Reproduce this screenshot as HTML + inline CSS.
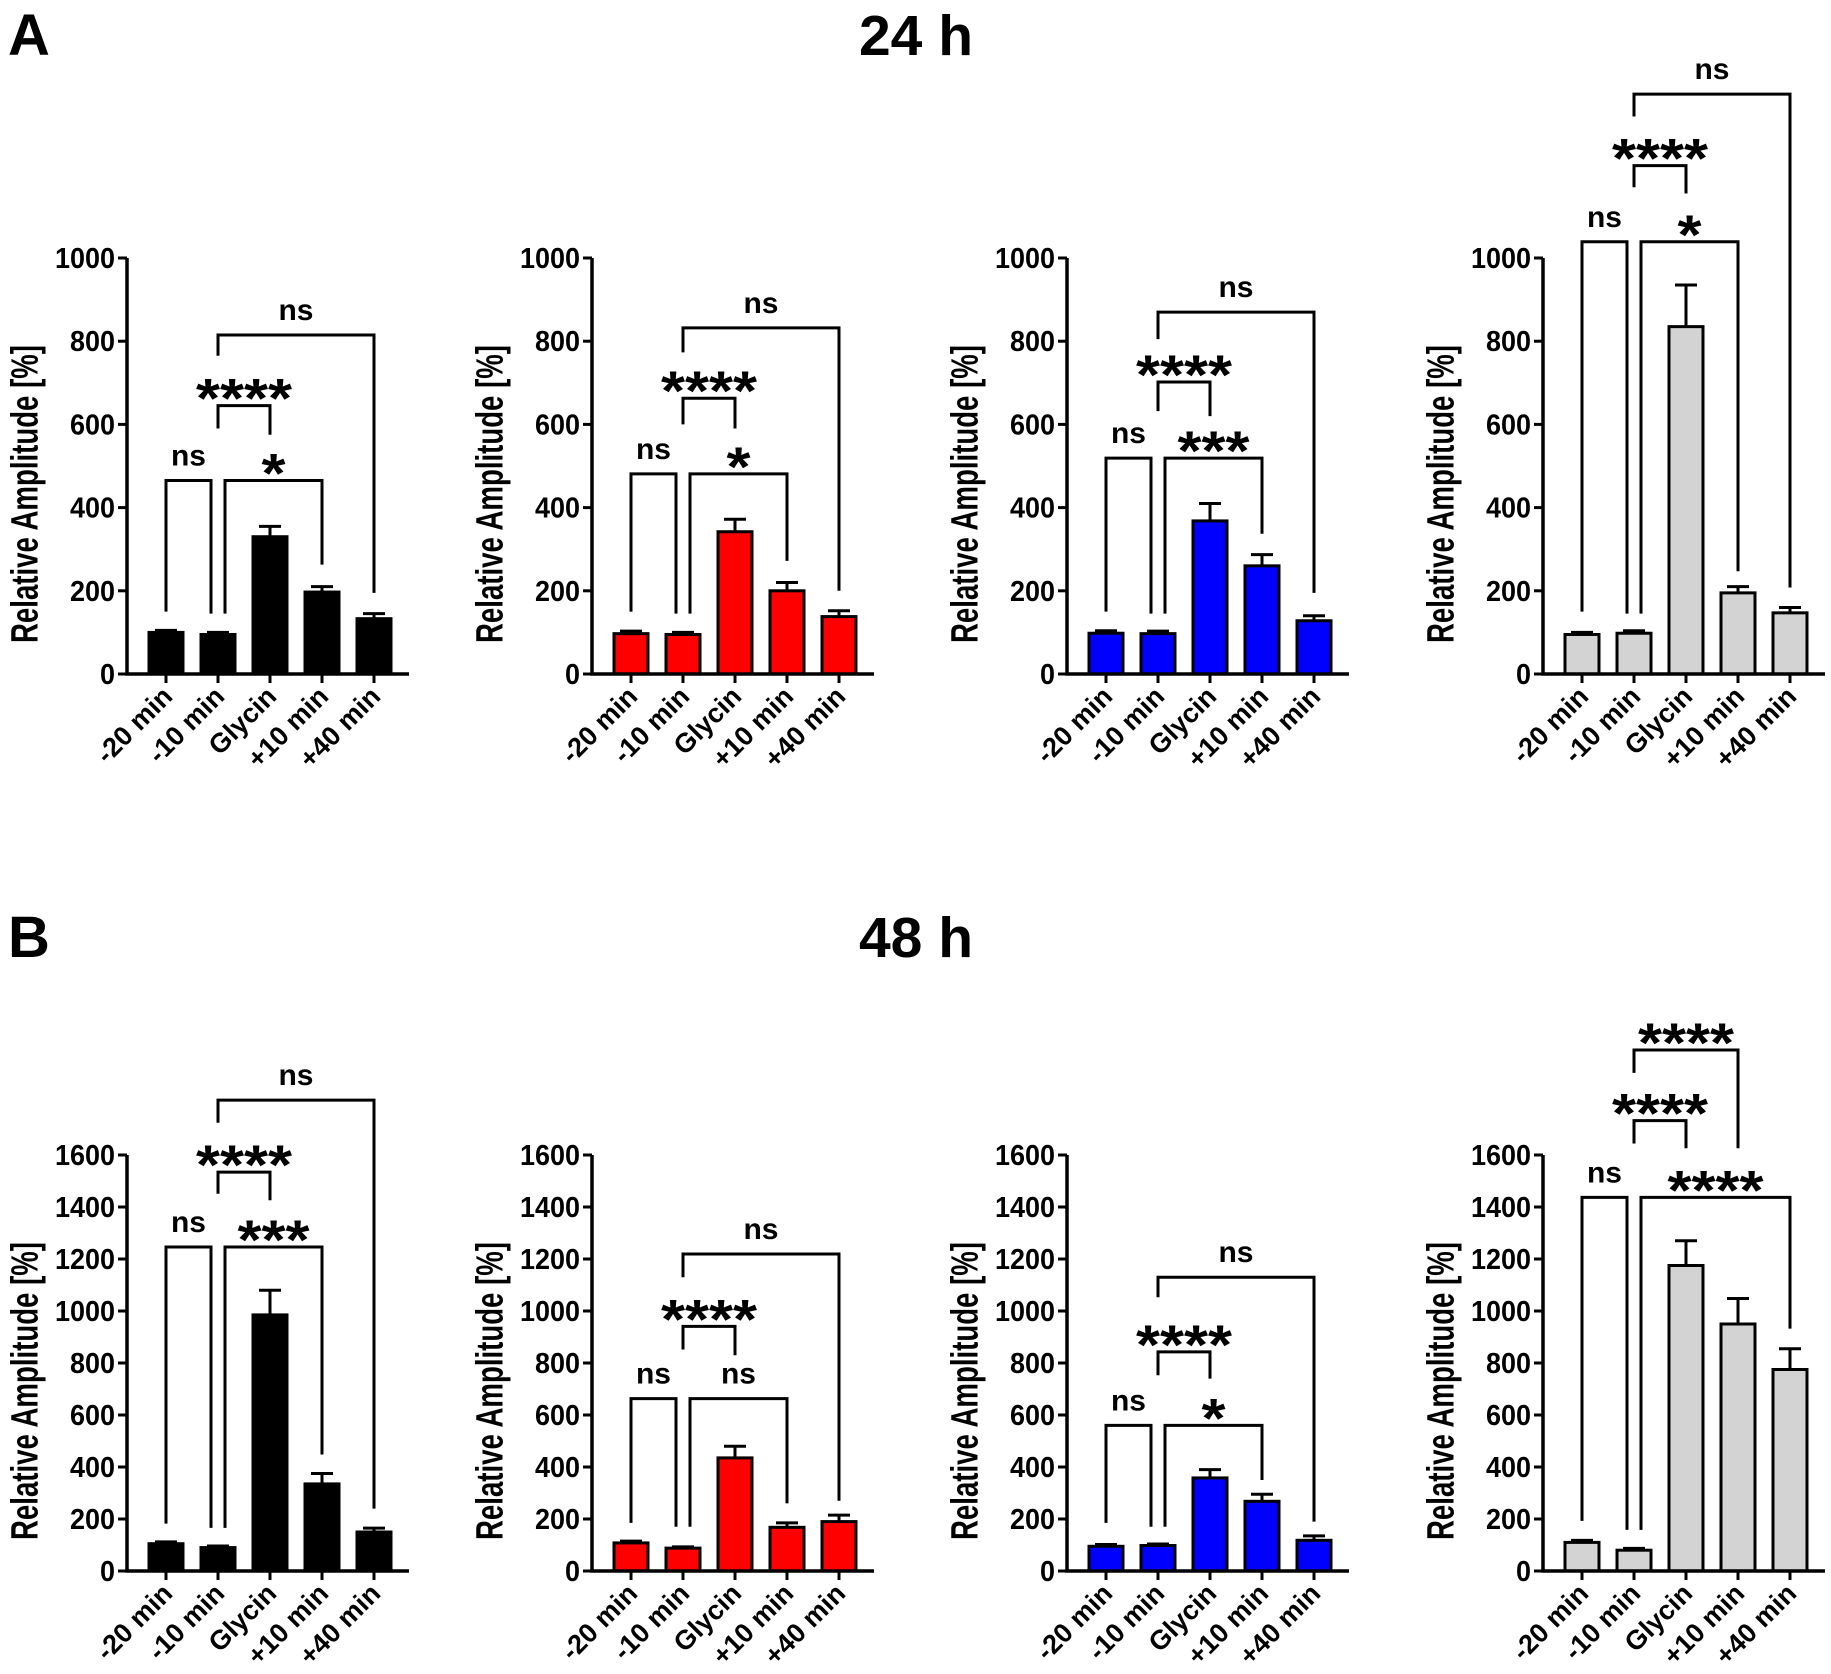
<!DOCTYPE html>
<html><head><meta charset="utf-8"><style>
html,body{margin:0;padding:0;background:#fff;}
svg{display:block;font-family:"Liberation Sans",Arial,sans-serif;font-weight:bold;}
</style></head><body>
<svg id="fig" width="1831" height="1674" viewBox="0 0 1831 1674" xmlns="http://www.w3.org/2000/svg">
<text x="8" y="55" font-size="58">A</text>
<text x="916" y="55" font-size="57" text-anchor="middle">24 h</text>
<text x="8" y="957" font-size="58">B</text>
<text x="916" y="957" font-size="57" text-anchor="middle">48 h</text>
</svg>
<script>
const categories = ['-20 min','-10 min','Glycin','+10 min','+40 min'];
const colors = ['#000000','#ff0000','#0000ff','#d3d3d3'];
const ticksA = [0,200,400,600,800,1000];
const ticksB = [0,200,400,600,800,1000,1200,1400,1600];
const means24 = [[100,95,330,197,133],[97,95,342,200,138],[98,97,368,260,128],[95,98,835,195,147]];
const errTop24 = [[105,100,355,210,145],[103,100,372,220,152],[104,103,410,287,140],[100,104,935,210,160]];
const means48 = [[105,90,985,335,150],[108,88,435,168,190],[95,98,358,268,118],[110,80,1175,950,775]];
const errTop48 = [[112,96,1080,375,165],[115,93,480,185,215],[102,104,390,295,135],[118,87,1270,1048,855]];
// brackets: [barA, dxA, barB, dxB, topValue, leftLegEnd, rightLegEnd, label]
const brackets24 = [
 [[0,0,1,-7,465,150,145,'ns'],[1,7,3,0,465,145,263,'*'],[1,0,2,0,645,590,575,'****'],[1,0,4,0,815,765,195,'ns']],
 [[0,0,1,-7,481,150,145,'ns'],[1,7,3,0,481,145,272,'*'],[1,0,2,0,663,600,590,'****'],[1,0,4,0,832,773,200,'ns']],
 [[0,0,1,-7,519,150,145,'ns'],[1,7,3,0,519,145,337,'***'],[1,0,2,0,702,632,620,'****'],[1,0,4,0,870,805,195,'ns']],
 [[0,0,1,-7,1039,150,145,'ns'],[1,7,3,0,1039,145,247,'*'],[1,0,2,0,1222,1170,1155,'****'],[1,0,4,0,1394,1340,208,'ns']]
];
const brackets48 = [
 [[0,0,1,-7,1246,182,166,'ns'],[1,7,3,0,1246,166,448,'***'],[1,0,2,0,1534,1451,1426,'****'],[1,0,4,0,1811,1724,240,'ns']],
 [[0,0,1,-7,663,185,170,'ns'],[1,7,3,0,663,170,260,'ns'],[1,0,2,0,941,852,830,'****'],[1,0,4,0,1219,1130,270,'ns']],
 [[0,0,1,-7,560,185,170,'ns'],[1,7,3,0,560,170,350,'*'],[1,0,2,0,843,753,740,'****'],[1,0,4,0,1130,1053,190,'ns']],
 [[0,0,1,-7,1437,193,158,'ns'],[1,7,4,0,1437,158,932,'****'],[1,0,2,0,1732,1644,1626,'****'],[1,0,3,0,2004,1916,1626,'****']]
];

const NS='http://www.w3.org/2000/svg';
const svg=document.getElementById('fig');
function mk(tag,attrs,parent){const e=document.createElementNS(NS,tag);for(const k in attrs)e.setAttribute(k,attrs[k]);(parent||svg).appendChild(e);return e;}
const firstBars=[166,631,1106,1582];
const spacing=52, barW=34;

function panel(row,p,means,errs,brs,ticks,maxV,y0,yTop){
  const g=mk('g',{});
  
  
  const axisX=firstBars[p]-39;
  const xC=i=>firstBars[p]+i*spacing;
  const yS=v=>y0-(v/maxV)*(y0-yTop);
  const axisEnd=xC(4)+35;
  means.forEach((m,i)=>{
    const cx=xC(i);
    const eb=mk('path',{d:`M${cx},${yS(m)} V${yS(errs[i])} M${cx-11},${yS(errs[i])} H${cx+11}`,stroke:'#000','stroke-width':3,fill:'none'},g);
    
    
    const r=mk('rect',{x:cx-barW/2,y:yS(m),width:barW,height:y0-yS(m),fill:colors[p],stroke:'#000','stroke-width':3},g);
    
    
  });
  const ya=mk('path',{d:`M${axisX},${yTop} V${y0} H${axisEnd}`,stroke:'#000','stroke-width':3.5,fill:'none'},g);
  
  
  ticks.forEach(t=>{
    const y=yS(t);
    mk('line',{x1:axisX-9,x2:axisX,y1:y,y2:y,stroke:'#000','stroke-width':3},g);
    const s=String(t);
    const tl=mk('text',{x:axisX-12,y:y+10,'font-size':29,'text-anchor':'end',textLength:s.length*15,lengthAdjust:'spacingAndGlyphs'},g);
    tl.textContent=s;
    
    
  });
  categories.forEach((c,i)=>{
    const cx=xC(i);
    mk('line',{x1:cx,x2:cx,y1:y0,y2:y0+9,stroke:'#000','stroke-width':3},g);
    const lx=cx+8, ly=y0+24;
    const xl=mk('text',{x:lx,y:ly,'font-size':27,'text-anchor':'end',transform:`rotate(-45 ${lx} ${ly})`},g);
    xl.textContent=c;
    
    
  });
  const tx=axisX-103, ty=(y0+yTop)/2+28;
  const yt=mk('text',{x:tx,y:ty,'font-size':38,'text-anchor':'middle',transform:`rotate(-90 ${tx} ${ty})`,dy:'0.35em',textLength:298,lengthAdjust:'spacingAndGlyphs'},g);
  yt.textContent='Relative Amplitude [%]';
  
  
  brs.forEach(b=>{
    const [a,da,bb,db,top,la,lb,lab]=b;
    const x1=xC(a)+da, x2=xC(bb)+db, yt2=yS(top);
    const br=mk('path',{d:`M${x1},${yS(la)} V${yt2} H${x2} V${yS(lb)}`,stroke:'#000','stroke-width':3,fill:'none'},g);
    
    
    const mx=(x1+x2)/2;
    let t;
    if(lab==='ns'){
      t=mk('text',{x:mx,y:yt2-15,'font-size':30,'text-anchor':'middle'},g);
    } else {
      t=mk('text',{x:mx,y:yt2+12,'font-size':56,'text-anchor':'middle',textLength:lab.length*24,lengthAdjust:'spacingAndGlyphs'},g);
    }
    t.textContent=lab;
    
    
  });
}
for(let p=0;p<4;p++){
  panel('24h',p,means24[p],errTop24[p],brackets24[p],ticksA,1000,674,258);
  panel('48h',p,means48[p],errTop48[p],brackets48[p],ticksB,1600,1571,1155);
}
</script>
</body></html>
